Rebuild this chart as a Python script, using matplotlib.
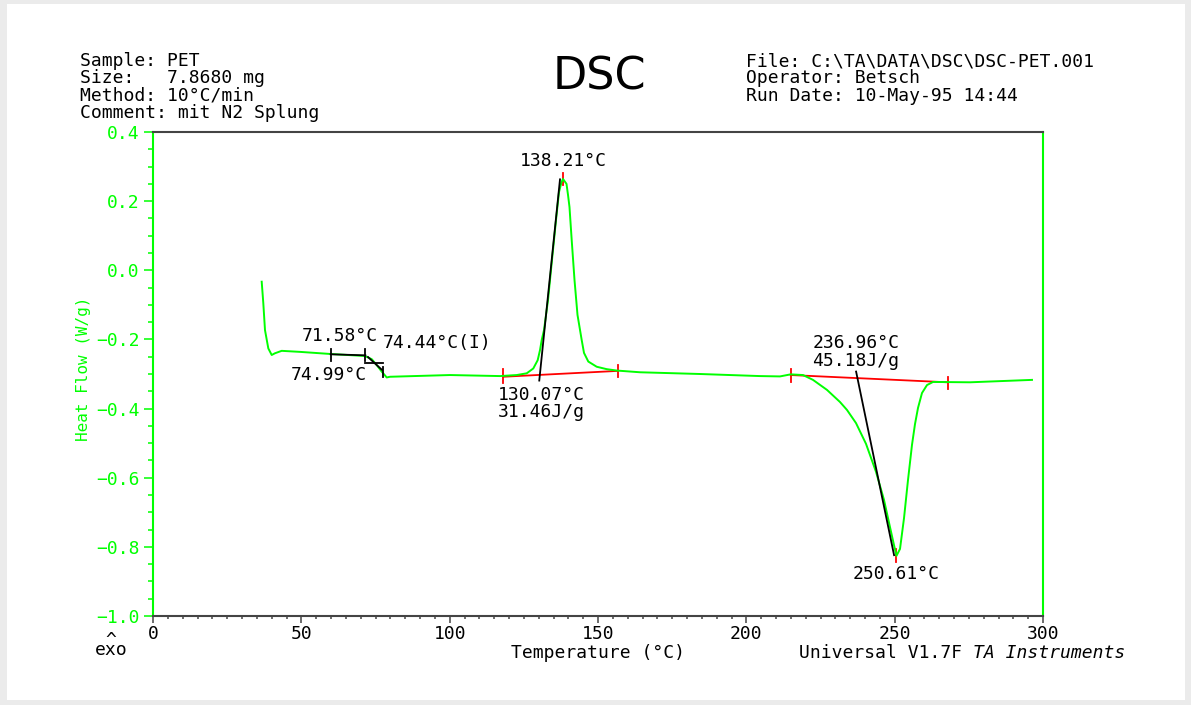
import matplotlib
matplotlib.use("Agg")
import matplotlib.pyplot as plt
from matplotlib.patches import Rectangle
from matplotlib.ticker import MultipleLocator, FuncFormatter

# DSC trace of PET (temperature in C, heat flow in W/g)
temp = [36.64, 37.18, 37.75, 38.87, 40.01, 41.12, 43.38, 49.55, 59.66, 71.46,
        73.72, 75.40, 77.09, 78.78, 79.89, 100.11, 116.97, 122.6, 125.97, 128.19,
        129.67, 130.45, 131.02, 131.80, 133.15, 134.49, 135.84, 136.85, 137.70, 138.21,
        139.38, 139.89, 140.39, 141.13, 142.08, 143.09, 144.51, 145.28, 146.73, 149.56,
        152.93, 156.30, 164.16, 184.38, 204.61, 211.35, 214.95, 219.10, 222.47, 227.19,
        231.57, 233.93, 236.97, 240.34, 243.71, 246.40, 248.43, 249.78, 250.61, 251.80,
        253.15, 254.49, 255.84, 256.85, 257.87, 259.21, 260.90, 262.92, 275.39, 296.29]
heat_flow = [-0.033, -0.095, -0.173, -0.226, -0.245, -0.240, -0.233, -0.236, -0.242, -0.248,
             -0.257, -0.274, -0.293, -0.310, -0.308, -0.303, -0.306, -0.303, -0.298, -0.284,
             -0.260, -0.231, -0.202, -0.173, -0.086, 0.030, 0.145, 0.226, 0.255, 0.264,
             0.250, 0.218, 0.183, 0.088, -0.028, -0.129, -0.202, -0.239, -0.264, -0.279,
             -0.286, -0.290, -0.295, -0.300, -0.306, -0.307, -0.301, -0.303, -0.317, -0.346,
             -0.381, -0.404, -0.442, -0.502, -0.583, -0.664, -0.743, -0.795, -0.826, -0.806,
             -0.717, -0.607, -0.505, -0.445, -0.398, -0.355, -0.332, -0.323, -0.324, -0.317]

# analysis constructions: (x0, x1, y0, y1)
black_segments = [
    (59.9, 71.58, -0.243, -0.246),    # Tg onset baseline
    (59.9, 59.9, -0.228, -0.262),
    (71.58, 71.58, -0.228, -0.262),
    (71.58, 77.5, -0.267, -0.267),
    (72.47, 77.19, -0.251, -0.288),
    (77.5, 77.5, -0.280, -0.309),
    (130.2, 137.19, -0.319, 0.263),   # crystallisation onset tangent
    (237.0, 249.8, -0.293, -0.824),   # melting onset tangent
]
red_segments = [
    (117.98, 156.74, -0.308, -0.291),  # crystallisation baseline
    (117.98, 117.98, -0.286, -0.326),
    (156.74, 156.74, -0.274, -0.309),
    (138.21, 138.21, 0.282, 0.247),
    (214.96, 267.88, -0.303, -0.324),  # melting baseline
    (214.96, 214.96, -0.286, -0.323),
    (267.88, 267.88, -0.309, -0.343),
    (250.61, 250.61, -0.806, -0.843),
]
# (text, x, y, ha)
labels = [
    ("138.21°C", 138.21, 0.302, "center"),
    ("71.58°C", 63.03, -0.205, "center"),
    ("74.44°C(I)", 77.53, -0.225, "left"),
    ("74.99°C", 59.33, -0.317, "center"),
    ("130.07°C", 130.79, -0.375, "center"),
    ("31.46J/g", 130.79, -0.424, "center"),
    ("236.96°C", 236.97, -0.225, "center"),
    ("45.18J/g", 236.97, -0.277, "center"),
    ("250.61°C", 250.45, -0.893, "center"),
]
header_left = ["Sample: PET", "Size:   7.8680 mg", "Method: 10°C/min",
               "Comment: mit N2 Splung"]
header_right = ["File: C:\\TA\\DATA\\DSC\\DSC-PET.001", "Operator: Betsch",
                "Run Date: 10-May-95 14:44"]

GREEN = "#00ff00"
GRAY = "#444444"
MONO = "DejaVu Sans Mono"
FS = 13
W, H = 1191, 705

plt.rcParams["font.family"] = MONO


def fx(px):
    return px / W


def fy(py):
    return 1 - py / H


fig = plt.figure(figsize=(W / 100, H / 100), dpi=100, facecolor="#ebebeb")
fig.patches.append(Rectangle((fx(7), fy(700)), fx(1185) - fx(7), fy(4) - fy(700),
                             transform=fig.transFigure, facecolor="white",
                             edgecolor="none", zorder=-10))

ax = fig.add_axes([fx(153), fy(616), fx(1043) - fx(153), fy(132) - fy(616)])
ax.set_facecolor("none")
ax.set_xlim(0, 300)
ax.set_ylim(-1.0, 0.4)

for x0, x1, y0, y1 in red_segments:
    ax.plot([x0, x1], [y0, y1], color="red", lw=1.3, zorder=2)
ax.plot(temp, heat_flow, color=GREEN, lw=1.4, zorder=3)
for x0, x1, y0, y1 in black_segments:
    ax.plot([x0, x1], [y0, y1], color="black", lw=1.3, zorder=4)

for t, x, y, ha in labels:
    ax.text(x, y, t, ha=ha, va="baseline", fontsize=FS, color="black")

for side in ("left", "right"):
    ax.spines[side].set_color(GREEN)
    ax.spines[side].set_linewidth(1.5)
for side in ("top", "bottom"):
    ax.spines[side].set_color(GRAY)
    ax.spines[side].set_linewidth(1.5)

ax.xaxis.set_major_locator(MultipleLocator(50))
ax.xaxis.set_minor_locator(MultipleLocator(5))
ax.yaxis.set_major_locator(MultipleLocator(0.2))
ax.yaxis.set_minor_locator(MultipleLocator(0.05))
ax.yaxis.set_major_formatter(FuncFormatter(lambda v, p: f"{v:.1f}".replace("-", "\u2212")))
ax.tick_params(axis="x", which="major", direction="out", length=5, width=1.1,
               color=GRAY, labelsize=FS, labelcolor="black", pad=1.5)
ax.tick_params(axis="x", which="minor", direction="out", length=2.5, width=1.1, color=GRAY)
ax.tick_params(axis="y", which="major", direction="out", length=6.5, width=1.1,
               color=GREEN, labelsize=FS, labelcolor=GREEN, pad=3)
ax.tick_params(axis="y", which="minor", direction="out", length=3.4, width=1.1, color=GREEN)

fig.text(fx(83.5), fy(369), "Heat Flow (W/g)", rotation=90, ha="center", va="center",
         fontsize=11.5, color=GREEN)
fig.text(fx(598), fy(658), "Temperature (°C)", ha="center", va="baseline", fontsize=FS)

# footer: keep the two parts adjacent, centred on the reference span
footer_x = 962.5 - 30 * 10.87 / 2
fig.text(fx(footer_x), fy(658), "Universal V1.7F", ha="left", va="baseline", fontsize=FS)
fig.text(fx(footer_x + 16 * 10.87), fy(658), "TA Instruments", ha="left", va="baseline",
         fontsize=FS, style="italic")
# exotherm marker: caret sitting right above "exo"
fig.text(fx(111), fy(631), "^\nexo", ha="center", va="top", multialignment="center",
         linespacing=0.45, fontsize=FS)

for i, line in enumerate(header_left):
    fig.text(fx(80), fy(66 + 17.3 * i), line, ha="left", va="baseline", fontsize=FS)
for i, line in enumerate(header_right):
    fig.text(fx(746), fy(66 + 17.3 * i), line, ha="left", va="baseline", fontsize=FS)
fig.text(fx(599), fy(90), "DSC", ha="center", va="baseline", fontsize=32,
         family="DejaVu Sans", color="black")

fig.savefig("out.png", dpi=100, facecolor=fig.get_facecolor())
